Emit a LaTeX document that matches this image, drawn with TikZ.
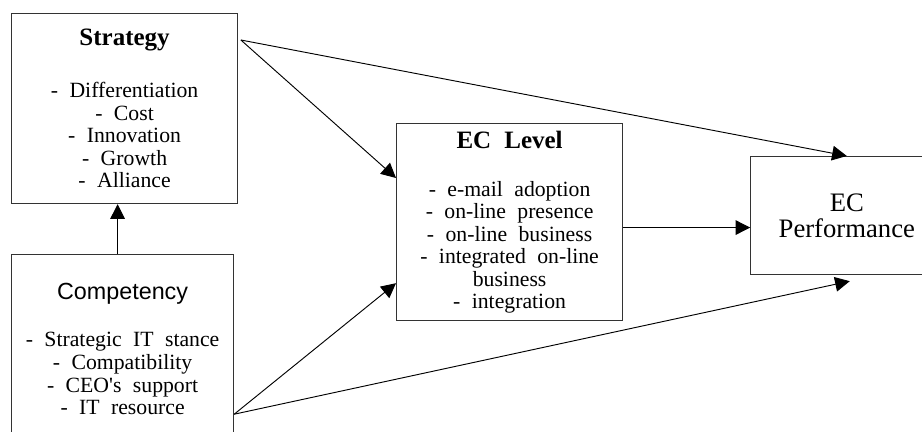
\documentclass[tikz,border=0pt]{standalone}
\usepackage{fontspec}
\setmainfont{Liberation Serif}
\newfontfamily\itemfont[WordSpace=2.1]{Liberation Serif}
\newfontfamily\headsans{Liberation Sans}
\usetikzlibrary{arrows.meta,positioning,calc}
\newcommand{\boxtitle}[1]{{\bfseries\fontsize{18.75pt}{20pt}\selectfont #1}}

\begin{document}
\begin{tikzpicture}[>={Triangle[length=11pt,width=11pt]},line width=0.7pt,
  box/.style={draw=black!80,line width=0.9pt,align=center,inner sep=0pt,
    font=\itemfont\fontsize{16.3pt}{16.9pt}\selectfont}]
\useasboundingbox (0,0) rectangle (691.5pt,-324pt);

\node[box,anchor=north west,minimum width=169.5pt,minimum height=142.5pt] (strat) at (8.25pt,-9.75pt)
  {\boxtitle{Strategy}\\[22pt] - Differentiation\\ - Cost\\ - Innovation\\ - Growth\\ - Alliance};
\node[box,below=37.5pt of strat.south west,anchor=north west,minimum width=166.5pt,minimum height=141pt] (comp)
  {{\headsans\fontsize{17.5pt}{18pt}\selectfont Competency}\\[19pt] - Strategic IT stance\\ - Compatibility\\ - CEO's support\\ - IT resource};
\node[box,anchor=north west,minimum width=169.5pt,minimum height=147.75pt] (eclev) at (297pt,-92.25pt)
  {\boxtitle{EC Level}\\[19pt] - e-mail adoption\\ - on-line presence\\ - on-line business\\ - integrated on-line\\ business\\ - integration};
\node[box,right=95.25pt of eclev,yshift=4.9pt,minimum width=144pt,minimum height=88.5pt,
  font=\fontsize{20pt}{19.5pt}\selectfont] (ecperf) {EC\\Performance};

% end points
\coordinate (sout) at ($(strat.north east)+(2pt,-20.25pt)$);
\coordinate (cout) at ($(comp.north east)+(0,-120pt)$);
\coordinate (cup) at ([xshift=-3.75pt]comp.north);
\coordinate (lvlhi) at ($(eclev.north west)+(0,-41.25pt)$);
\coordinate (lvllo) at ($(eclev.south west)+(0,28.5pt)$);
\coordinate (perfin) at ($(eclev.east)+(0,-4.1pt)$);
\coordinate (perflo) at ($(ecperf.south)+(2.25pt,-4.5pt)$);

\draw[->] (cup) -- (cup |- strat.south);
\draw[->] (sout) -- (lvlhi);
\draw[->] (sout) -- (ecperf.north);
\draw[->] (perfin) -- (perfin -| ecperf.west);
\draw[->] (cout) -- (lvllo);
\draw[->] (cout) -- (perflo);
\end{tikzpicture}
\end{document}
